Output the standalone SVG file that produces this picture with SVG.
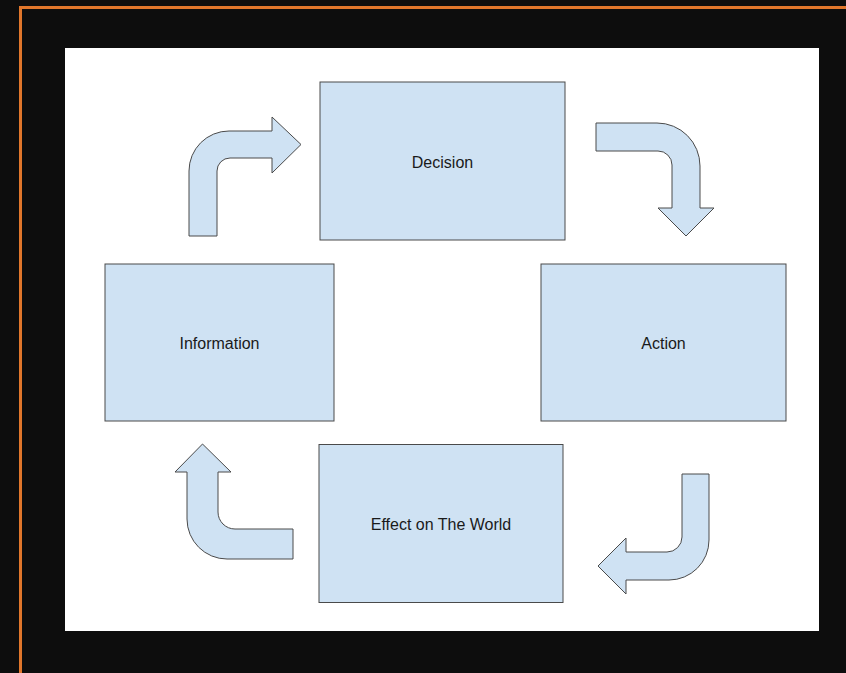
<svg xmlns="http://www.w3.org/2000/svg" width="846" height="673" viewBox="0 0 846 673">
<style>
.box{fill:#cfe2f3;stroke:#4a4a4a;stroke-width:1}
.arr{fill:#cfe2f3;stroke:#4a4a4a;stroke-width:1;stroke-linejoin:miter}
.lbl{font-family:"Liberation Sans",Arial,sans-serif;font-size:16px;fill:#1a1a1a;text-anchor:middle}
</style>
<rect x="0" y="0" width="846" height="673" fill="#0d0d0d"/>
<path d="M20.5 673 L20.5 7.5 L846 7.5" fill="none" stroke="#e0762b" stroke-width="3"/>
<rect x="65" y="48" width="754" height="583" fill="#ffffff"/>
<g id="connectors">
<path class="arr" d="M189 236 L189 171 A40 40 0 0 1 229 131 L272 131 L272 117 L301 144.5 L272 173 L272 158 L230 158 A13 13 0 0 0 217 171 L217 236 Z"/>
<path class="arr" d="M596 123 L657 123 A43 43 0 0 1 700 166 L700 208 L714 208 L686 236 L658 208 L672 208 L672 165 A14 14 0 0 0 658 151 L596 151 Z"/>
<path class="arr" d="M682 474 L709 474 L709 540 A40 40 0 0 1 669 580 L626 580 L626 594 L598 566 L626 538 L626 552 L667 552 A15 15 0 0 0 682 537 Z"/>
<path class="arr" d="M293 529 L235 529 A17 17 0 0 1 218 512 L218 472 L231 472 L202.5 444 L175 472 L187 472 L187 519 A40 40 0 0 0 227 559 L293 559 Z"/>
</g>
<g id="decision">
<rect class="box" x="320" y="82" width="245" height="158"/>
<text class="lbl" x="442.5" y="168">Decision</text>
</g>
<g id="action">
<rect class="box" x="541" y="264" width="245" height="157"/>
<text class="lbl" x="663.5" y="349">Action</text>
</g>
<g id="effect">
<rect class="box" x="319" y="444.5" width="244" height="158"/>
<text class="lbl" x="441" y="530">Effect on The World</text>
</g>
<g id="information">
<rect class="box" x="105" y="264" width="229" height="157"/>
<text class="lbl" x="219.5" y="349">Information</text>
</g>
</svg>
